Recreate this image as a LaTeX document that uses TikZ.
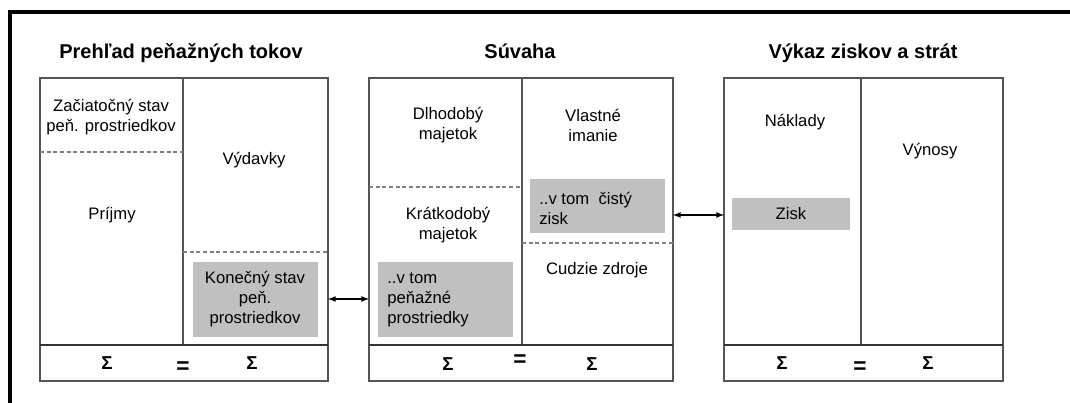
\documentclass[tikz,border=0pt]{standalone}
\usepackage{fontspec}
\setmainfont{Liberation Sans}
\usetikzlibrary{calc,positioning}
\definecolor{cellgray}{RGB}{192,192,192}
\definecolor{framegray}{RGB}{85,85,85}

\begin{document}
\begin{tikzpicture}[x=0.75pt, y=-0.75pt, font=\fontsize{12.5}{15}\selectfont, node distance = 2em]
    \tikzset{>=latex}
    \tikzset{
        title/.style   = {font=\fontsize{15}{18}\selectfont\bfseries, anchor=base, inner sep=0pt},
        txt/.style     = {align=center, inner sep=0pt},
        txtl/.style    = {align=left, anchor=west, inner sep=0pt},
        split/.style   = {draw=gray, dash pattern=on 3pt off 2pt, line width=0.8pt},
        frame/.style   = {draw=framegray, line width=1.1pt},
        sumline/.style = {draw=black!80, line width=1.4pt},
        sum/.style     = {font=\fontsize{14}{16}\selectfont\bfseries, inner sep=0pt},
        eq/.style      = {font=\fontsize{17}{18}\selectfont\bfseries, inner sep=0pt},
    }

    \useasboundingbox (0,0) rectangle (1070,403);
    % outer frame, only top and left edge are visible
    \draw[line width=2.3pt] (1070,12) -- (10,12) -- (10,403);

    % Prehlad penaznych tokov
    \node[title] (CashTitle) at (181,59) {Prehľad peňažných tokov};
    \fill[cellgray] (193,262) rectangle (318,337);
    \draw[frame] (40,78) rectangle (328,381);
    \draw[frame] (183,78) -- (183,345);
    \draw[sumline] (40,345) -- (328,345);
    \draw[split] (40,152) -- (183,152);
    \draw[split] (183,252) -- (328,252);
    \node[txt] (Start) at (111,117) {Začiatočný stav\\peň. prostriedkov};
    \node[txt] (Out) at (254,160) {Výdavky};
    \node[txt] (In) at (112,215) {Príjmy};
    \node[txt] (EndCash) at (255,299) {Konečný stav\\peň.\\prostriedkov};
    \node[sum] (CashSumL) at (107,363) {Σ};
    \node[sum] (CashSumR) at (252,363) {Σ};
    \node[eq] (CashEq) at (183,368) {=};

    % Suvaha
    \node[title] (BalTitle) at (520,59) {Súvaha};
    \fill[cellgray] (378,262) rectangle (513,337);
    \fill[cellgray] (530,179) rectangle (665,233);
    \draw[frame] (369,78) rectangle (673,381);
    \draw[frame] (522,78) -- (522,345);
    \draw[sumline] (369,345) -- (673,345);
    \draw[split] (369,187) -- (522,187);
    \draw[split] (522,243) -- (673,243);
    \node[txt] (LongAss) at (448,125) {Dlhodobý\\majetok};
    \node[txt] (Equity) at (593,125) {Vlastné\\imanie};
    \node[txt] (ShortAss) at (448,225) {Krátkodobý\\majetok};
    \node[txtl] (CashIn) at (387,300) {..v tom\\peňažné\\prostriedky};
    \node[txtl] (NetProfit) at (539,208) {..v tom \ čistý\\zisk};
    \node[txt] (Debt) at (597,270) {Cudzie zdroje};
    \node[sum] (BalSumL) at (448,364) {Σ};
    \node[sum] (BalSumR) at (592,364) {Σ};
    \node[eq] (BalEq) at (520,361) {=};

    % Vykaz ziskov a strat
    \node[title] (PLTitle) at (863,59) {Výkaz ziskov a strát};
    \fill[cellgray] (732,198) rectangle (850,230);
    \draw[frame] (724,78) rectangle (1003,381);
    \draw[frame] (861,78) -- (861,345);
    \draw[sumline] (724,345) -- (1003,345);
    \node[txt] (Costs) at (795,122) {Náklady};
    \node[txt] (Revenue) at (930,151) {Výnosy};
    \node[txt] (Profit) at (791,214) {Zisk};
    \node[sum] (PLSumL) at (782,363) {Σ};
    \node[sum] (PLSumR) at (928,363) {Σ};
    \node[eq] (PLEq) at (860,368) {=};

    % links between the statements
    \coordinate (CashR) at (328,299);
    \coordinate (BalL) at (369,299);
    \coordinate (BalR) at (673,215);
    \coordinate (PLL) at (724,215);
    \draw[<->, line width=1pt] (CashR) -- (BalL);
    \draw[<->, line width=1pt] (BalR) -- (PLL);

\end{tikzpicture}
\end{document}
